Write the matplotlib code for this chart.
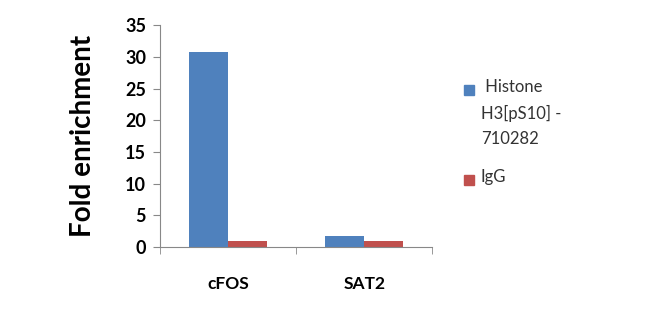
import matplotlib
matplotlib.use("Agg")
import matplotlib.pyplot as plt
from matplotlib.patches import Rectangle
import numpy as np

categories = ["cFOS", "SAT2"]
series_names = [" Histone\nH3[pS10] -\n710282", "IgG"]
histone_vals = [30.8, 1.7]
igg_vals = [1.0, 1.0]
colors = ["#4F81BD", "#C0504D"]
yticks = [0, 5, 10, 15, 20, 25, 30, 35]

plt.rcParams['font.family'] = ['Lato', 'DejaVu Sans']

fig = plt.figure(figsize=(6.5, 3.18), dpi=100)
ax = fig.add_axes([0.246, 0.223, 0.419, 0.698])

x = np.arange(len(categories))
w = 0.285
ax.bar(x - w/2, histone_vals, w, color=colors[0])
ax.bar(x + w/2, igg_vals, w, color=colors[1])

ax.set_xlim(-0.5, 1.5)
ax.set_ylim(0, 35)
ax.set_yticks(yticks)
ax.set_yticklabels([str(t) for t in yticks], fontsize=13, fontweight='bold')
ax.set_xticks(x)
ax.set_xticklabels(categories, fontsize=12.5, fontweight='bold')
ax.tick_params(axis='x', length=0, pad=21)
ax.set_xticks([-0.5, 0.5, 1.5], minor=True)
ax.tick_params(axis='x', which='minor', length=5, color='#888888')
ax.tick_params(axis='y', length=5, color='#888888', pad=5)
for s in ['top', 'right']:
    ax.spines[s].set_visible(False)
for s in ['left', 'bottom']:
    ax.spines[s].set_color('#888888')
    ax.spines[s].set_linewidth(0.8)
ax.set_ylabel("Fold enrichment", fontsize=20, fontweight='bold', labelpad=21)

# legend
leg_y = [0.70, 0.418]
for name, c, yy in zip(series_names, colors, leg_y):
    fig.add_artist(Rectangle((0.714, yy), 0.0155, 0.032, transform=fig.transFigure,
                             color=c))
    fig.text(0.74, yy + 0.052, name, fontsize=12, va='top', ha='left',
             linespacing=1.7, color='#333333')

fig.savefig("out.png", dpi=100)
